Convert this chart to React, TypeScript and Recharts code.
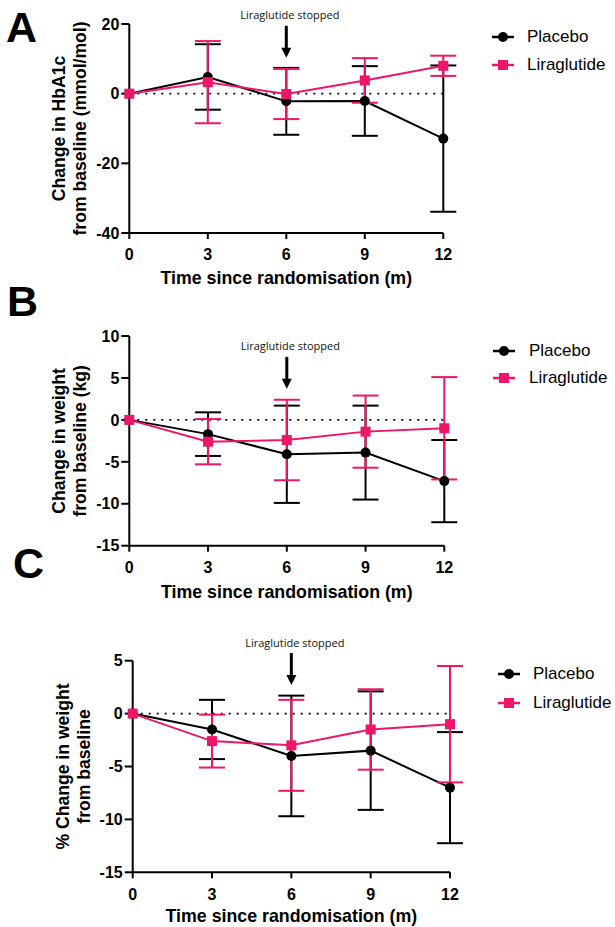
import React from 'react';
import { LineChart, Line, XAxis, YAxis, ErrorBar, ReferenceLine, ReferenceDot } from 'recharts';

const months = [0, 3, 6, 9, 12];
const seriesNames = ['Placebo', 'Liraglutide'];

// A: HbA1c (mmol/mol)
const hba1cPlacebo = [0, 4.8, -2.2, -2.1, -12.9];
const hba1cPlaceboErr = [0, 9.4, 9.6, 10, 21];
const hba1cLira = [0, 3.3, -0.1, 3.8, 8.0];
const hba1cLiraErr = [0, 11.8, 7.2, 6.4, 2.9];

// B: weight (kg)
const weightPlacebo = [0, -1.7, -4.1, -3.9, -7.3];
const weightPlaceboErr = [0, 2.6, 5.8, 5.6, 4.9];
const weightLira = [0, -2.6, -2.4, -1.4, -1.0];
const weightLiraErr = [0, 2.7, 4.8, 4.3, 6.1];

// C: % weight
const pctPlacebo = [0, -1.5, -4.0, -3.5, -7.0];
const pctPlaceboErr = [0, 2.8, 5.7, 5.6, 5.25];
const pctLira = [0, -2.6, -3.0, -1.5, -1.0];
const pctLiraErr = [0, 2.5, 4.3, 3.8, 5.5];

const hba1cTicks = [-40, -20, 0, 20];
const weightTicks = [-15, -10, -5, 0, 5, 10];
const pctTicks = [-15, -10, -5, 0, 5];

const PINK = '#EE1668';
const FONT = '"Liberation Sans", Arial, sans-serif';

const makeRows = (p: number[], pe: number[], l: number[], le: number[]) =>
  months.map((m, i) => ({ month: m, placebo: p[i], placeboErr: pe[i], lira: l[i], liraErr: le[i] }));

const SquareDot = (props: any) => {
  const { cx, cy, index } = props;
  if (cx == null || cy == null) return <g key={index} />;
  return <rect key={index} x={cx - 5} y={cy - 5} width={10} height={10} fill={PINK} />;
};

const Arrow = (props: any) => {
  const { cx, cy } = props;
  return (
    <g>
      <text x={cx + 3.5} y={cy - 43} textAnchor="middle" dominantBaseline="central"
        fontFamily='"Open Sans", sans-serif' fontSize={11} fill="#111">Liraglutide stopped</text>
      <line x1={cx} y1={cy - 32} x2={cx} y2={cy - 9} stroke="#000" strokeWidth={3} />
      <polygon points={`${cx - 5},${cy - 10} ${cx + 5},${cy - 10} ${cx},${cy}`} fill="#000" />
    </g>
  );
};

const yLabel = (lines: string[]) => (props: any) => {
  const { x, y, width, height } = props.viewBox;
  const left = x + width;
  const cy = y + height / 2;
  return (
    <g>
      {lines.map((t, i) => {
        const bx = left - 64 + i * 21;
        return (
          <text key={i} x={bx} y={cy} transform={`rotate(-90 ${bx} ${cy})`} textAnchor="middle"
            fontFamily={FONT} fontWeight="bold" fontSize={17.6} fill="#000">{t}</text>
        );
      })}
    </g>
  );
};

const xLabel = (gap: number) => (props: any) => {
  const { x, y, width } = props.viewBox;
  return (
    <text x={x + width / 2} y={y + gap + 6} textAnchor="middle" fontFamily={FONT}
      fontWeight="bold" fontSize={17.8} fill="#000">Time since randomisation (m)</text>
  );
};

const tickStyle = { fontFamily: FONT, fontWeight: 'bold', fontSize: 16, fill: '#000' };
const axisStroke = { stroke: '#000', strokeWidth: 2 };

type PanelProps = {
  letter: string;
  letterPos: [number, number];
  top: number;
  height: number;
  margin: { top: number; right: number; bottom: number; left: number };
  xAxisHeight: number;
  rows: any[];
  yTicks: number[];
  yLines: string[];
  titleGap: number;
  arrowTip: number;
  legendY: [number, number];
  legendX: number;
  legendTextX: number;
};

const Legend2 = ({ ys, x, textX }: { ys: [number, number]; x: number; textX: number }) => (
  <>
    {seriesNames.map((name, i) => (
      <div key={name} style={{ position: 'absolute', left: x, top: ys[i] - 12, height: 24, display: 'flex', alignItems: 'center' }}>
        <svg width={22} height={24} style={{ display: 'block' }}>
          <line x1={0} y1={12} x2={22} y2={12} stroke={i === 0 ? '#000' : PINK} strokeWidth={2.5} />
          {i === 0 ? <circle cx={11} cy={12} r={5} fill="#000" /> : <rect x={6} y={7} width={10} height={10} fill={PINK} />}
        </svg>
        <span style={{ marginLeft: textX - x - 22, fontFamily: FONT, fontSize: 17, color: '#000', lineHeight: '24px' }}>{name}</span>
      </div>
    ))}
  </>
);

const Panel = (p: PanelProps) => (
  <div style={{ position: 'absolute', left: 0, top: p.top, width: 615, height: p.height }}>
    <div style={{ position: 'absolute', left: p.letterPos[0], top: p.letterPos[1], fontFamily: FONT, fontWeight: 'bold', fontSize: 43, lineHeight: 1 }}>{p.letter}</div>
    <LineChart width={615} height={p.height} data={p.rows} margin={p.margin}>
      <XAxis dataKey="month" type="number" domain={[0, 12]} ticks={months} height={p.xAxisHeight}
        tick={tickStyle} tickSize={6} tickMargin={10} axisLine={axisStroke} tickLine={axisStroke}
        label={{ content: xLabel(p.titleGap) }} />
      <YAxis type="number" domain={[p.yTicks[0], p.yTicks[p.yTicks.length - 1]]} ticks={p.yTicks} width={60}
        tick={tickStyle} tickSize={8} tickMargin={2} axisLine={axisStroke} tickLine={axisStroke}
        interval={0} label={{ content: yLabel(p.yLines) }} />
      <ReferenceLine y={0} stroke="#000" strokeWidth={1.8} strokeDasharray="2 6" />
      <Line dataKey="placebo" stroke="#000" strokeWidth={2} isAnimationActive={false}
        dot={{ r: 5, fill: '#000', stroke: '#000', strokeWidth: 0 }} activeDot={false}>
        <ErrorBar dataKey="placeboErr" direction="y" width={13} stroke="#000" strokeWidth={2} isAnimationActive={false} />
      </Line>
      <Line dataKey="lira" stroke={PINK} strokeWidth={2} isAnimationActive={false} dot={SquareDot} activeDot={false}>
        <ErrorBar dataKey="liraErr" direction="y" width={13} stroke={PINK} strokeWidth={2} isAnimationActive={false} />
      </Line>
      <ReferenceDot x={6} y={p.arrowTip} r={0} ifOverflow="visible" shape={Arrow} />
    </LineChart>
    <Legend2 ys={[p.legendY[0] - p.top, p.legendY[1] - p.top]} x={p.legendX} textX={p.legendTextX} />
  </div>
);

export default function App() {
  return (
    <div style={{ position: 'absolute', left: 0, top: 0, width: 615, height: 927, background: '#fff' }}>
      <Panel letter="A" letterPos={[6, 6]} top={0} height={300}
        margin={{ top: 24, right: 171.7, bottom: 12, left: 69.3 }} xAxisHeight={55}
        rows={makeRows(hba1cPlacebo, hba1cPlaceboErr, hba1cLira, hba1cLiraErr)}
        yTicks={hba1cTicks} yLines={['Change in HbA1c', 'from baseline (mmol/mol)']}
        titleGap={45} arrowTip={10.3} legendY={[37.3, 65]} legendX={492} legendTextX={527} />
      <Panel letter="B" letterPos={[7, -20]} top={300} height={310}
        margin={{ top: 36, right: 170.7, bottom: 9.3, left: 69.3 }} xAxisHeight={55}
        rows={makeRows(weightPlacebo, weightPlaceboErr, weightLira, weightLiraErr)}
        yTicks={weightTicks} yLines={['Change in weight', 'from baseline (kg)']}
        titleGap={46} arrowTip={3.7} legendY={[350.7, 378.3]} legendX={492.5} legendTextX={529} />
      <Panel letter="C" letterPos={[13, -68]} top={610} height={317}
        margin={{ top: 50.7, right: 165, bottom: 4.7, left: 72.7 }} xAxisHeight={50}
        rows={makeRows(pctPlacebo, pctPlaceboErr, pctLira, pctLiraErr)}
        yTicks={pctTicks} yLines={['% Change in weight', 'from baseline']}
        titleGap={43.4} arrowTip={2.7} legendY={[674.3, 703.3]} legendX={498} legendTextX={533} />
    </div>
  );
}
